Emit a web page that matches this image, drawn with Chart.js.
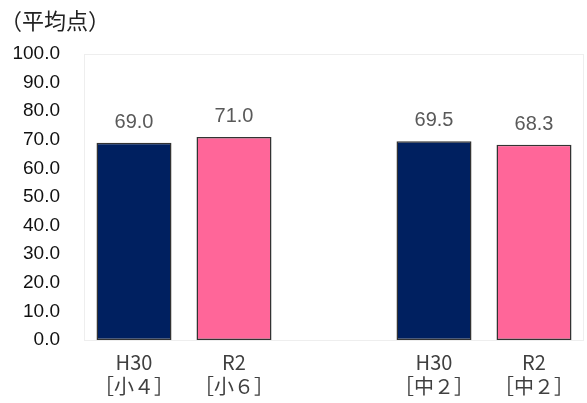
<!DOCTYPE html>
<html>
<head>
<meta charset="utf-8">
<script src="https://cdn.jsdelivr.net/npm/chart.js@4"></script>
<style>
  body { margin: 0; background: #fff; }
  #wrap { width: 587px; height: 403px; }
</style>
</head>
<body>
<div id="wrap"><canvas id="myChart"></canvas></div>
<script>
var categories = [['H30', '［小４］'], ['R2', '［小６］'], '', ['H30', '［中２］'], ['R2', '［中２］']];
var scores = [69.0, 71.0, null, 69.5, 68.3];
var barColors = ['#002060', '#FF6699', '#ffffff', '#002060', '#FF6699'];
var yTicks = [0, 10, 20, 30, 40, 50, 60, 70, 80, 90, 100];

var jpFont = "'Noto Sans CJK JP', sans-serif";

// faint frame around the plot area + value labels above bars
var framePlugin = {
  id: 'frame',
  beforeDatasetsDraw: function (chart) {
    var a = chart.chartArea, c = chart.ctx;
    c.save();
    c.strokeStyle = '#eeeeee';
    c.lineWidth = 1;
    c.strokeRect(a.left + 0.5, a.top + 0.5, a.right - a.left - 1, a.bottom - a.top);
    c.restore();
  },
  afterDatasetsDraw: function (chart) {
    var c = chart.ctx;
    var meta = chart.getDatasetMeta(0);
    c.save();
    c.fillStyle = '#595959';
    c.font = "20px 'Liberation Sans', sans-serif";
    c.textAlign = 'center';
    c.textBaseline = 'alphabetic';
    meta.data.forEach(function (bar, i) {
      if (scores[i] == null) return;
      c.fillText(scores[i].toFixed(1), bar.x, bar.y - 15);
    });
    c.restore();
  }
};

var ctx = document.getElementById('myChart');

var myChart = new Chart(ctx, {
  type: 'bar',
  data: {
    labels: categories,
    datasets: [{
      data: scores,
      backgroundColor: barColors,
      borderColor: '#333333',
      borderWidth: 1.5,
      borderSkipped: false,
      barPercentage: 0.75,
      categoryPercentage: 1.0
    }]
  },
  options: {
    responsive: true,
    maintainAspectRatio: false,
    animation: false,
    layout: { padding: { left: 0, right: 3, top: 0, bottom: 0 } },
    plugins: {
      legend: { display: false },
      tooltip: { enabled: false },
      title: {
        display: true,
        text: '（平均点）',
        align: 'start',
        color: '#222222',
        font: { family: jpFont, size: 22, weight: 'normal', lineHeight: 1.2 },
        padding: { top: 7, bottom: 20.6 }
      }
    },
    scales: {
      x: {
        afterFit: function (scale) { scale.height = 63; },
        grid: { display: false, drawTicks: false },
        border: { display: false },
        ticks: {
          color: '#404040',
          font: { family: jpFont, size: 20, lineHeight: 1.2 },
          padding: 10,
          maxRotation: 0,
          autoSkip: false
        }
      },
      y: {
        min: 0,
        max: 100,
        afterBuildTicks: function (scale) {
          scale.ticks = yTicks.map(function (v) { return { value: v }; });
        },
        afterFit: function (scale) { scale.width = 84; },
        grid: { display: false, drawTicks: false },
        border: { display: false },
        ticks: {
          color: '#111111',
          font: { family: "'Liberation Sans', sans-serif", size: 19 },
          padding: 24,
          callback: function (v) { return v.toFixed(1); }
        }
      }
    }
  },
  plugins: [framePlugin]
});
</script>
</body>
</html>
